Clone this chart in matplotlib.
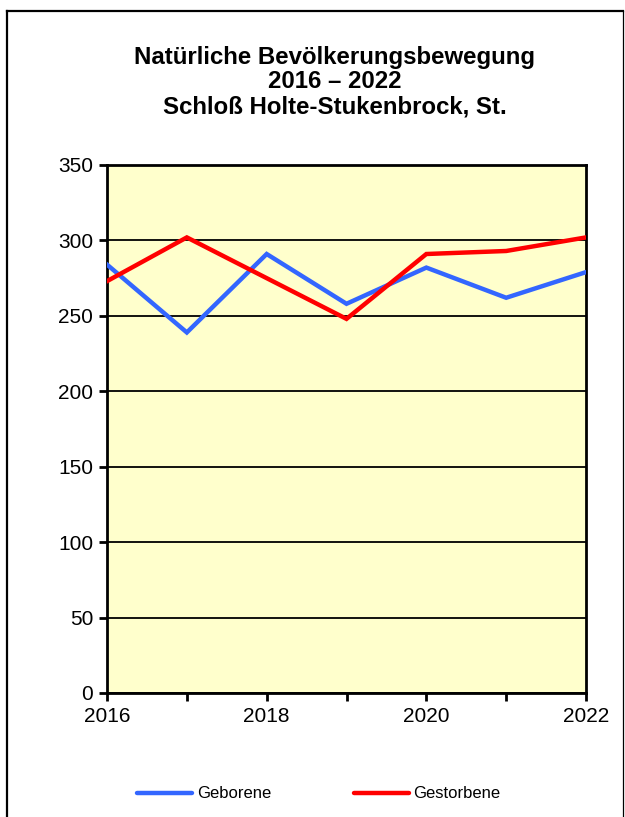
import matplotlib
matplotlib.use('Agg')
import matplotlib.pyplot as plt
from matplotlib.lines import Line2D

plt.rcParams['font.family'] = ['Liberation Sans', 'DejaVu Sans']

years = [2016, 2017, 2018, 2019, 2020, 2021, 2022]
geborene = [284, 239, 291, 258, 282, 262, 279]
gestorbene = [273, 302, 275, 248, 291, 293, 302]
title = 'Natürliche Bevölkerungsbewegung\n2016 – 2022\nSchloß Holte-Stukenbrock, St.'

W, H = 625, 817
fig = plt.figure(figsize=(W/100, H/100), dpi=100)

# outer frame (open at bottom)
fig.add_artist(Line2D([7/W, 7/W], [0, 1-11/H], color='black', lw=1.6, transform=fig.transFigure))
fig.add_artist(Line2D([7/W, 623/W], [1-11/H, 1-11/H], color='black', lw=1.6, transform=fig.transFigure))
fig.add_artist(Line2D([623/W, 623/W], [0, 1-11/H], color='black', lw=0.9, transform=fig.transFigure))

ax = fig.add_axes([107/W, 1-693/H, 479/W, 528/H])
ax.set_facecolor('#FFFFCC')

l1, = ax.plot(years, geborene, color='#3366FF', lw=3.2, solid_joinstyle='miter', zorder=3)
l2, = ax.plot(years, gestorbene, color='#FF0000', lw=3.2, solid_joinstyle='miter', zorder=4)

ax.set_xlim(2016, 2022)
ax.set_ylim(0, 350)
ax.set_yticks(range(0, 351, 50))
ax.set_xticks([2016, 2018, 2020, 2022])
ax.set_xticks(years, minor=True)
ax.grid(axis='y', color='black', lw=1.3)
ax.set_axisbelow(True)
for s in ax.spines.values():
    s.set_linewidth(2)
ax.tick_params(axis='both', which='both', direction='out', length=6, width=2, labelsize=15)
ax.tick_params(axis='y', pad=4)
ax.tick_params(axis='x', pad=4)

fig.text(335/W, 1-82/H, title, ha='center', va='center', fontsize=17.3, fontweight='bold', linespacing=1.1)

h1 = Line2D([], [], color='#3366FF', lw=3.2, solid_capstyle='round')
h2 = Line2D([], [], color='#FF0000', lw=3.2, solid_capstyle='round')
fig.legend([h1, h2], ['Geborene', 'Gestorbene'], loc='center', bbox_to_anchor=(319/W, 1-794/H),
           ncol=2, frameon=False, fontsize=12, handlelength=3.3, handletextpad=0.25, columnspacing=5.0)

fig.savefig('out.png', dpi=100)
